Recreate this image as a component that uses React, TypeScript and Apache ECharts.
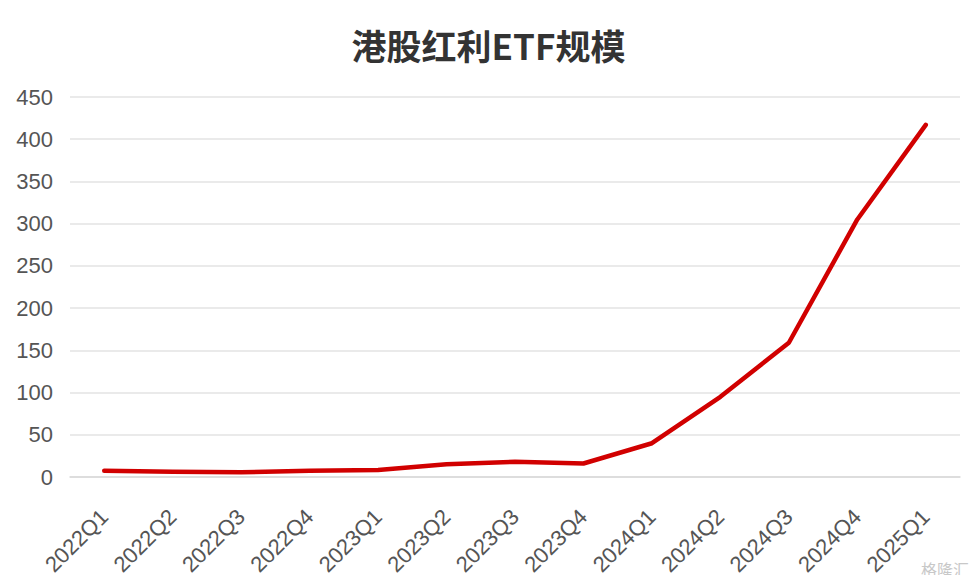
import React, { useEffect, useRef } from "react";
import * as echarts from "echarts";

const title = "港股红利ETF规模";
const categories = [
  "2022Q1", "2022Q2", "2022Q3", "2022Q4",
  "2023Q1", "2023Q2", "2023Q3", "2023Q4",
  "2024Q1", "2024Q2", "2024Q3", "2024Q4", "2025Q1",
];
const etfScale = [7.5, 6.3, 5.5, 7.5, 8.3, 15, 18, 16, 40, 95, 159, 305, 417];
const yTicks = { min: 0, max: 450, interval: 50 };

export default function App() {
  const ref = useRef<HTMLDivElement>(null);
  useEffect(() => {
    const chart = echarts.init(ref.current!, undefined, { renderer: "svg" });
    chart.setOption({
      animation: false,
      backgroundColor: "#ffffff",
      title: {
        text: title,
        left: "center",
        top: 22,
        textStyle: {
          fontFamily: "Noto Sans CJK SC",
          fontSize: 35,
          fontWeight: "bold",
          color: "#333333",
        },
      },
      grid: { left: 70, right: 17, top: 97, bottom: 106, containLabel: false },
      xAxis: {
        type: "category",
        data: categories,
        boundaryGap: true,
        axisLine: { show: true, lineStyle: { color: "#d9d9d9", width: 1.5 } },
        axisTick: { show: false },
        axisLabel: {
          rotate: 45,
          interval: 0,
          margin: 36,
          fontFamily: "Liberation Sans",
          fontSize: 22,
          color: "#555555",
        },
      },
      yAxis: {
        type: "value",
        min: yTicks.min,
        max: yTicks.max,
        interval: yTicks.interval,
        axisLine: { show: false },
        axisTick: { show: false },
        splitLine: { lineStyle: { color: "#e3e3e3", width: 1.5 } },
        axisLabel: {
          margin: 17,
          fontFamily: "Liberation Sans",
          fontSize: 22,
          color: "#555555",
        },
      },
      series: [
        {
          type: "line",
          data: etfScale,
          symbol: "none",
          lineStyle: { color: "#d10000", width: 4.5, cap: "round", join: "round" },
        },
      ],
      graphic: [
        {
          type: "text",
          right: 8,
          bottom: 6,
          style: {
            text: "格隆汇",
            fontFamily: "Noto Sans CJK SC",
            fontSize: 16,
            fill: "#c8c8c8",
          },
        },
      ],
    });
    return () => chart.dispose();
  }, []);
  return <div ref={ref} style={{ width: 977, height: 583, margin: -8 }} />;
}
